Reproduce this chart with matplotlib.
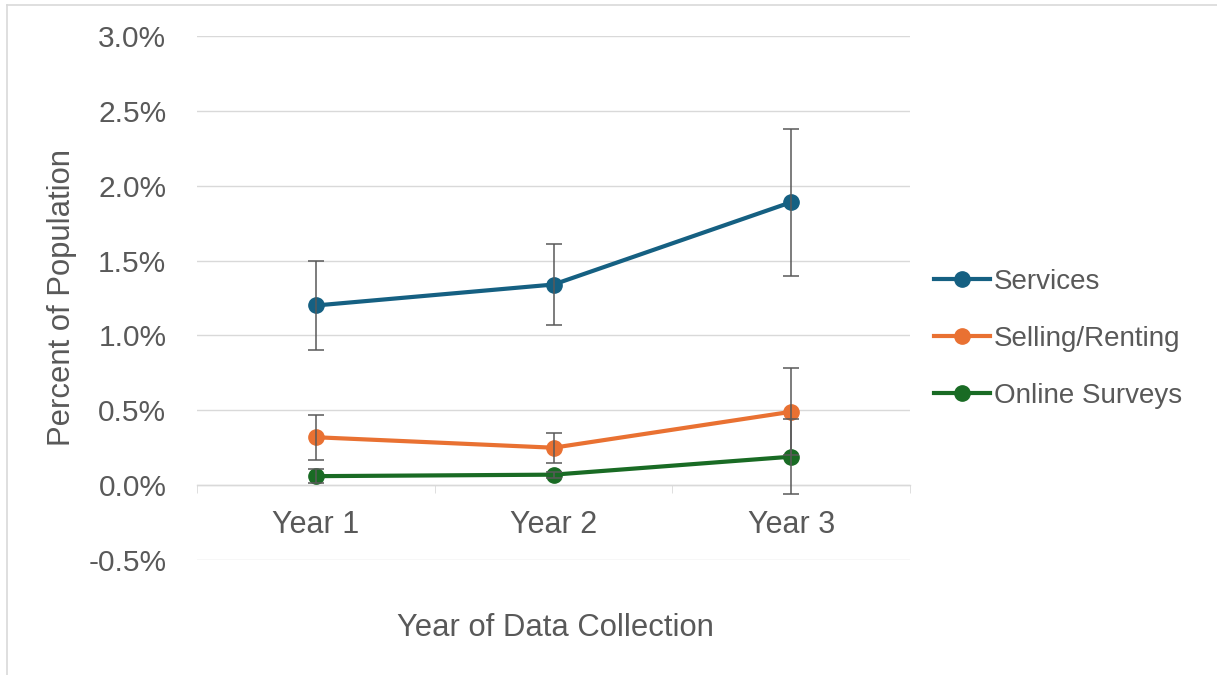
# Percent of population by activity over three years of data collection

import matplotlib.pyplot as plt
from matplotlib.lines import Line2D
from matplotlib.ticker import FuncFormatter, FixedLocator

plt.rcParams['font.family'] = ['Liberation Sans', 'DejaVu Sans']

years = ['Year 1', 'Year 2', 'Year 3']

services = [1.20, 1.34, 1.89]
services_err = [0.30, 0.27, 0.49]

selling = [0.32, 0.25, 0.49]
selling_err = [0.15, 0.10, 0.29]

online = [0.06, 0.07, 0.19]
online_err = [0.045, 0.02, 0.25]

names = ['Services', 'Selling/Renting', 'Online Surveys']
colors = ['#156082', '#E97132', '#196B24']

W, H = 1217, 675
fig = plt.figure(figsize=(W / 100, H / 100), dpi=100)
ax = fig.add_axes([197 / W, 1 - 560 / H, 713 / W, 524 / H])

x = list(range(len(years)))
txt = '#595959'

for vals, errs, name, col in zip([services, selling, online],
                                 [services_err, selling_err, online_err],
                                 names, colors):
    ax.plot(x, vals, '-o', color=col, linewidth=3, markersize=11,
            label=name, zorder=3)
    ax.errorbar(x, vals, yerr=errs, fmt='none', ecolor='#595959',
                elinewidth=1.1, capsize=6, capthick=1.1, zorder=4)

ax.set_xlim(-0.5, 2.5)
ax.set_ylim(-0.5, 3.0)

yt = [-0.5, 0.0, 0.5, 1.0, 1.5, 2.0, 2.5, 3.0]
ax.yaxis.set_major_locator(FixedLocator(yt))
ax.yaxis.set_major_formatter(FuncFormatter(lambda v, p: '%.1f%%' % v))
ax.yaxis.grid(True, color='#D9D9D9', linewidth=1.0)
ax.set_axisbelow(True)

ax.set_xticks(x)
ax.set_xticklabels(years)
ax.set_xticks([-0.5, 0.5, 1.5, 2.5], minor=True)
ax.tick_params(axis='x', which='major', length=0, pad=18,
               labelsize=22, labelcolor=txt)
ax.tick_params(axis='x', which='minor', length=6, color='#D9D9D9',
               direction='out')
ax.tick_params(axis='y', length=0, pad=22, labelsize=21.5, labelcolor=txt)

for sp in ['top', 'right', 'left']:
    ax.spines[sp].set_visible(False)
ax.spines['bottom'].set_position(('data', 0))
ax.spines['bottom'].set_color('#D9D9D9')
ax.spines['bottom'].set_linewidth(1.0)

fig.text(62 / W, 1 - 298 / H, 'Percent of Population', rotation=90,
         ha='center', va='center', fontsize=22.3, color=txt)
fig.text(555 / W, 1 - 628 / H, 'Year of Data Collection',
         ha='center', va='center', fontsize=22.3, color=txt)

ax.legend(loc='center left', bbox_to_anchor=(909 / W, 1 - 339 / H),
          bbox_transform=fig.transFigure, frameon=False, fontsize=20,
          labelcolor=txt, handlelength=2.0, handletextpad=0.15,
          labelspacing=1.12, markerscale=1.0)

# light frame of the chart area (top and left only visible)
fig.add_artist(Line2D([7 / W, 1.0], [1 - 5 / H, 1 - 5 / H],
                      color='#D9D9D9', linewidth=1.2))
fig.add_artist(Line2D([7 / W, 7 / W], [0.0, 1 - 5 / H],
                      color='#D9D9D9', linewidth=1.2))

fig.savefig('out.png', dpi=100)
